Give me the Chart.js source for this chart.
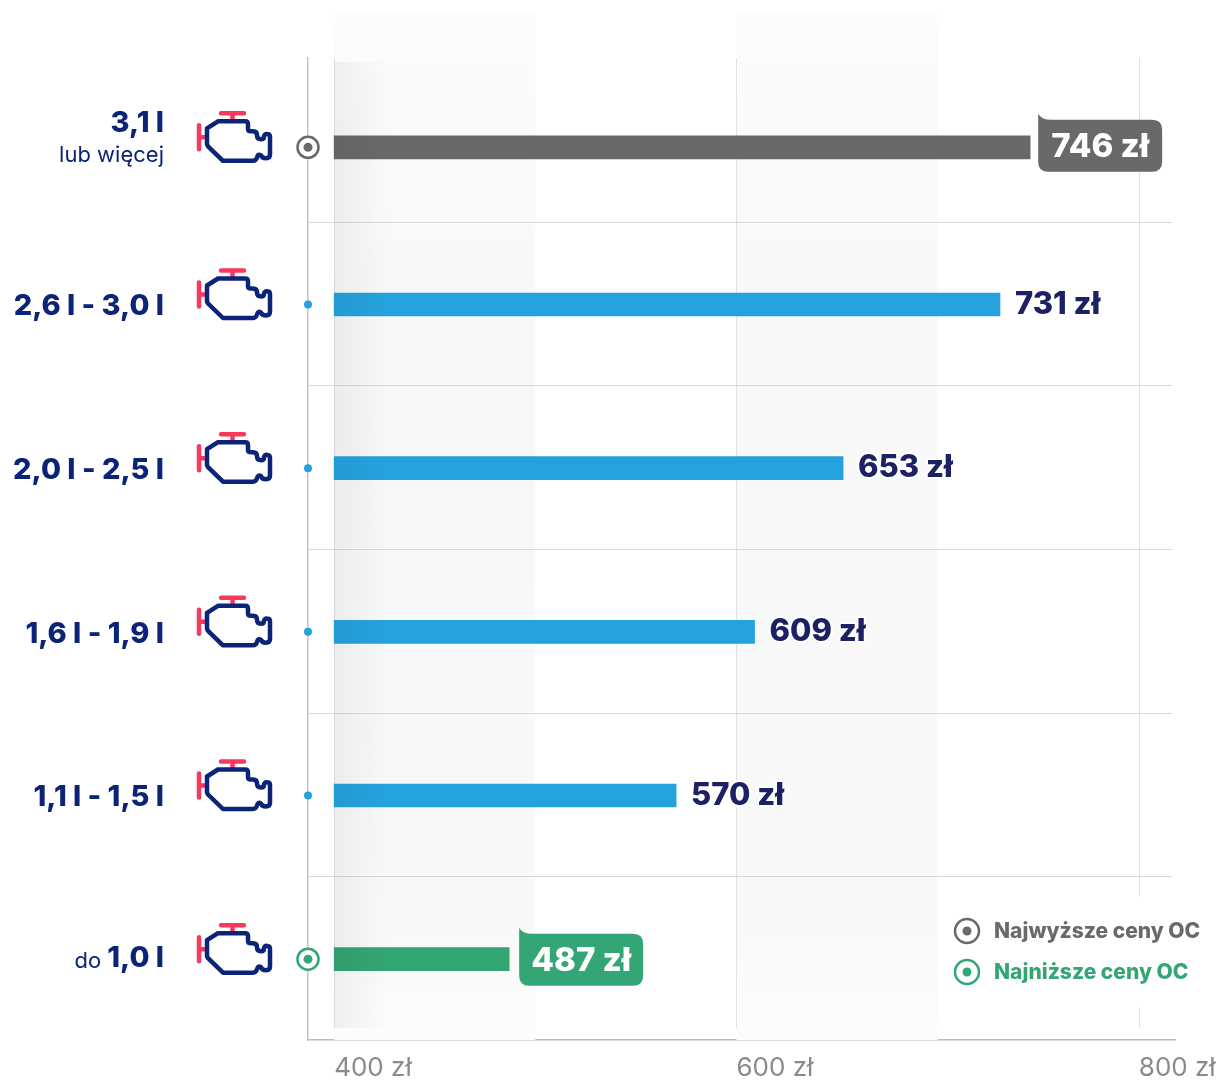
<!DOCTYPE html>
<html lang="pl">
<head>
<meta charset="utf-8">
<title>Ceny OC a pojemność silnika</title>
<script src="https://cdn.jsdelivr.net/npm/chart.js@4"></script>
<style>
  html, body { margin: 0; padding: 0; background: #fff; }
  canvas { display: block; }
</style>
</head>
<body>
<canvas id="myChart" width="1218" height="1080"></canvas>
<script>
// chart data
const categories = ["3,1 l lub więcej", "2,6 l - 3,0 l", "2,0 l - 2,5 l", "1,6 l - 1,9 l", "1,1 l - 1,5 l", "do 1,0 l"];
const prices = [746, 731, 653, 609, 570, 487];
const mainLabels = ["3,1 l", "2,6 l - 3,0 l", "2,0 l - 2,5 l", "1,6 l - 1,9 l", "1,1 l - 1,5 l", "1,0 l"];
const tickValues = [400, 600, 800];
const bandRanges = [[400, 500], [600, 700]];
const highestLabel = "Najwyższe ceny OC";
const lowestLabel = "Najniższe ceny OC";
const unit = " zł";

const GREY = "#696969";
const BLUE = "#25a2dd";
const GREEN = "#34a574";
const NAVY = "#0b2478";
const DARK = "#1b2162";
const RED = "#f8395f";
const FONT = "Inter, sans-serif";

const highestIndex = prices.indexOf(Math.max(...prices));
const lowestIndex = prices.indexOf(Math.min(...prices));

function barColor(i) {
  if (i === highestIndex) return GREY;
  if (i === lowestIndex) return GREEN;
  return BLUE;
}

// bars sit a bit under the middle of their row, the top one more so
const rowShift = {
  id: "rowShift",
  afterDatasetsUpdate(chart) {
    chart.getDatasetMeta(0).data.forEach((bar, i) => {
      bar.y += i === 0 ? 7.5 : 1;
    });
  },
};

function ring(ctx, x, y, color, r) {
  ctx.beginPath();
  ctx.arc(x, y, r, 0, Math.PI * 2);
  ctx.fillStyle = "#fff";
  ctx.fill();
  ctx.lineWidth = 2.5;
  ctx.strokeStyle = color;
  ctx.stroke();
  ctx.beginPath();
  ctx.arc(x, y, 4.5, 0, Math.PI * 2);
  ctx.fillStyle = color;
  ctx.fill();
}

function engine(ctx, y) {
  ctx.save();
  ctx.translate(0, y - 148);
  ctx.lineCap = "round";
  ctx.lineJoin = "round";
  ctx.lineWidth = 4.5;
  ctx.strokeStyle = RED;
  ctx.beginPath();
  ctx.moveTo(221, 114);
  ctx.lineTo(244, 114);
  ctx.moveTo(232.5, 114);
  ctx.lineTo(232.5, 121);
  ctx.moveTo(199, 126);
  ctx.lineTo(199, 150);
  ctx.moveTo(199, 138);
  ctx.lineTo(206, 138);
  ctx.stroke();
  ctx.strokeStyle = NAVY;
  ctx.beginPath();
  ctx.moveTo(218, 122);
  ctx.lineTo(245, 122);
  ctx.quadraticCurveTo(248, 122, 248, 125);
  ctx.lineTo(248, 130);
  ctx.quadraticCurveTo(248, 132, 251, 132);
  ctx.lineTo(253, 132);
  ctx.quadraticCurveTo(257, 132, 257, 136);
  ctx.quadraticCurveTo(257, 140, 261, 140);
  ctx.quadraticCurveTo(264, 140, 264, 137);
  ctx.quadraticCurveTo(265, 134, 268, 135);
  ctx.quadraticCurveTo(270, 135, 270, 138);
  ctx.lineTo(270, 155);
  ctx.quadraticCurveTo(270, 159, 266, 159);
  ctx.quadraticCurveTo(262, 159, 261, 156);
  ctx.quadraticCurveTo(258, 154, 257, 158);
  ctx.quadraticCurveTo(256, 161.5, 253, 161.5);
  ctx.lineTo(223, 161.5);
  ctx.lineTo(208, 147);
  ctx.lineTo(207, 145);
  ctx.lineTo(207, 129);
  ctx.closePath();
  ctx.stroke();
  ctx.restore();
}

function callout(ctx, x, y, color, text) {
  const w = 124, h = 52, top = y - 26, r = 10;
  ctx.beginPath();
  ctx.moveTo(x, top - 6);
  ctx.quadraticCurveTo(x + 3, top, x + 13, top);
  ctx.lineTo(x + w - r, top);
  ctx.quadraticCurveTo(x + w, top, x + w, top + r);
  ctx.lineTo(x + w, top + h - r);
  ctx.quadraticCurveTo(x + w, top + h, x + w - r, top + h);
  ctx.lineTo(x + r, top + h);
  ctx.quadraticCurveTo(x, top + h, x, top + h - r);
  ctx.closePath();
  ctx.fillStyle = color;
  ctx.fill();
  ctx.fillStyle = "#fff";
  ctx.textAlign = "center";
  ctx.textBaseline = "middle";
  ctx.font = "800 33px " + FONT;
  ctx.fillText(text, x + w / 2, y + 1);
}

// grey bands and grid lines behind the bars
const background = {
  id: "background",
  beforeDatasetsDraw(chart) {
    const { ctx, chartArea, scales } = chart;
    ctx.save();
    bandRanges.forEach((band) => {
      const x0 = scales.x.getPixelForValue(band[0]);
      const x1 = scales.x.getPixelForValue(band[1]);
      const g = ctx.createLinearGradient(0, 13, 0, chartArea.bottom);
      g.addColorStop(0, "#fdfdfd");
      g.addColorStop(0.05, "#fbfbfb");
      g.addColorStop(0.3, "#f8f8f8");
      g.addColorStop(0.9, "#f9f9f9");
      g.addColorStop(1, "#fdfdfd");
      ctx.fillStyle = g;
      ctx.fillRect(x0, 13, x1 - x0, chartArea.bottom - 13);
    });
    ctx.strokeStyle = "#e2e2e2";
    ctx.lineWidth = 1;
    tickValues.forEach((v) => {
      const x = Math.round(scales.x.getPixelForValue(v)) + 0.5;
      ctx.beginPath();
      ctx.moveTo(x, chartArea.top);
      ctx.lineTo(x, chartArea.bottom - 12);
      ctx.stroke();
    });
    // separators between the rows
    ctx.strokeStyle = "#d9d9d9";
    categories.forEach((c, i) => {
      if (i === 0) return;
      const y = Math.round((scales.y.getPixelForValue(i - 1) + scales.y.getPixelForValue(i)) / 2) + 0.5;
      ctx.beginPath();
      ctx.moveTo(chartArea.left, y);
      ctx.lineTo(chartArea.right - 3, y);
      ctx.stroke();
    });
    ctx.restore();
  },
  afterDatasetsDraw(chart) {
    const { ctx, chartArea, scales } = chart;
    const x0 = scales.x.getPixelForValue(bandRanges[0][0]);
    ctx.save();
    const g = ctx.createLinearGradient(x0, 0, x0 + 55, 0);
    g.addColorStop(0, "rgba(0,0,0,0.05)");
    g.addColorStop(1, "rgba(0,0,0,0)");
    ctx.fillStyle = g;
    ctx.fillRect(x0, chartArea.top + 4, 55, chartArea.bottom - chartArea.top - 16);
    ctx.restore();
  },
};

// row labels, icons, markers, values and the legend
const decorations = {
  id: "decorations",
  afterDraw(chart) {
    const { ctx, chartArea } = chart;
    const bars = chart.getDatasetMeta(0).data;
    ctx.save();
    bars.forEach((bar, i) => {
      const y = bar.y;
      engine(ctx, y);

      // left labels
      ctx.fillStyle = NAVY;
      ctx.textAlign = "right";
      ctx.textBaseline = "middle";
      ctx.font = "800 29px " + FONT;
      if (i === highestIndex) {
        ctx.fillText(mainLabels[i], 164, y - 24);
        ctx.font = "400 22px " + FONT;
        ctx.fillText("lub więcej", 164, y + 8);
      } else if (i === lowestIndex) {
        ctx.fillText(mainLabels[i], 164, y - 1);
        const w = ctx.measureText(mainLabels[i]).width;
        ctx.font = "400 22px " + FONT;
        ctx.fillText("do", 164 - w - 6, y + 2);
      } else {
        ctx.fillText(mainLabels[i], 164, y + 2);
      }

      // marker on the axis
      if (i === highestIndex) {
        ring(ctx, chartArea.left, y, GREY, 10.5);
      } else if (i === lowestIndex) {
        ring(ctx, chartArea.left, y, GREEN, 10.5);
      } else {
        ctx.beginPath();
        ctx.arc(chartArea.left, y, 4, 0, Math.PI * 2);
        ctx.fillStyle = BLUE;
        ctx.fill();
      }

      // value
      const text = prices[i] + unit;
      if (i === highestIndex) {
        callout(ctx, bar.x + 8, y - 1.5, GREY, text);
      } else if (i === lowestIndex) {
        callout(ctx, bar.x + 10, y + 0.5, GREEN, text);
      } else {
        ctx.textAlign = "left";
        ctx.textBaseline = "middle";
        ctx.font = "800 31px " + FONT;
        ctx.lineWidth = 4;
        ctx.lineJoin = "round";
        ctx.strokeStyle = "#fff";
        ctx.strokeText(text, bar.x + 15, y);
        ctx.fillStyle = DARK;
        ctx.fillText(text, bar.x + 15, y);
      }
    });

    // legend, white box breaks the 800 grid line
    ctx.fillStyle = "#fff";
    ctx.fillRect(950, 897, 258, 110);
    ring(ctx, 967, 931, GREY, 12);
    ring(ctx, 967, 972, GREEN, 12);
    ctx.textAlign = "left";
    ctx.textBaseline = "middle";
    ctx.font = "800 21px " + FONT;
    ctx.fillStyle = GREY;
    ctx.fillText(highestLabel, 994, 932);
    ctx.fillStyle = GREEN;
    ctx.fillText(lowestLabel, 994, 973);
    ctx.restore();
  },
};

const config = {
  type: "bar",
  data: {
    labels: categories,
    datasets: [
      {
        label: "Cena OC",
        data: prices,
        base: 400,
        barThickness: 23,
        borderWidth: 0,
        backgroundColor: (c) => barColor(c.dataIndex),
      },
    ],
  },
  options: {
    indexAxis: "y",
    responsive: false,
    animation: false,
    layout: { padding: { left: 308, right: 43, top: 58, bottom: 0 } },
    plugins: {
      legend: { display: false },
      tooltip: { enabled: false },
    },
    scales: {
      x: {
        min: 387,
        max: 818,
        grid: { display: false },
        border: { color: "#bdbdbd", width: 1.5 },
        afterBuildTicks: (scale) => {
          scale.ticks = tickValues.map((v) => ({ value: v }));
        },
        afterFit: (scale) => {
          scale.height = 40;
          scale.paddingLeft = 0;
          scale.paddingRight = 0;
        },
        ticks: {
          align: "start",
          autoSkip: false,
          maxRotation: 0,
          padding: 5,
          color: "#8a8a8a",
          font: { family: FONT, size: 26 },
          callback: (v) => v + unit,
        },
      },
      y: {
        grid: { display: false },
        border: { color: "#c4c4c4", width: 1.5 },
        ticks: { display: false },
        afterFit: (scale) => {
          scale.width = 0;
        },
      },
    },
  },
  plugins: [rowShift, background, decorations],
};

const myChart = new Chart(document.getElementById("myChart").getContext("2d"), config);
</script>
</body>
</html>
